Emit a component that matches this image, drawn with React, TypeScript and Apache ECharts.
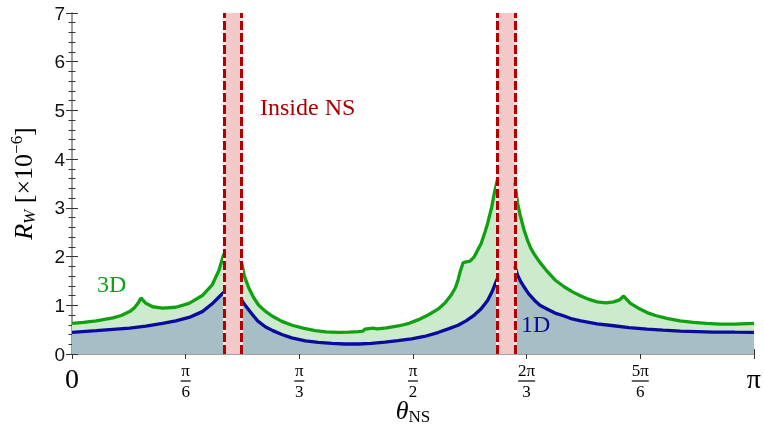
import React, { useEffect, useRef } from "react";
import * as echarts from "echarts";

// x in degrees (0..180 = 0..π), y in units of 1e-6
const green1: [number, number][] = [[0,0.63],[3,0.65],[6.4,0.68],[10.8,0.74],[13,0.79],[15.2,0.87],[16.5,0.95],[17.5,1.05],[18.2,1.15],[19.5,1.04],[21.3,0.97],[23.9,0.94],[27.4,0.96],[30.9,1.04],[34.4,1.2],[37,1.42],[38.8,1.72],[40.1,2.06]];
const green2: [number, number][] = [[44.6,1.94],[45.5,1.6],[46.7,1.35],[48,1.15],[49.3,1.0],[51,0.88],[52.8,0.78],[55.4,0.67],[58.1,0.59],[61,0.53],[64.2,0.48],[67,0.455],[70.3,0.445],[73,0.45],[75.6,0.46],[76.8,0.47],[77.3,0.51],[79.5,0.53],[80.5,0.515],[83,0.535],[86.1,0.575],[89,0.63],[91.3,0.70],[94,0.8],[96.6,0.92],[98.5,1.05],[100.1,1.21],[101.2,1.36],[101.9,1.52],[102.5,1.7],[103.2,1.87],[104,1.89],[104.9,1.9],[105.5,1.94],[106.2,2.0],[107,2.12],[108,2.27],[109,2.5],[109.7,2.68],[110.8,3.02],[111.6,3.35],[112.3,3.58]];
const green3: [number, number][] = [[116.9,3.52],[117.6,3.1],[118.3,2.85],[119.3,2.55],[120.3,2.32],[121.1,2.17],[122,2.05],[123.5,1.88],[125.5,1.69],[127.5,1.52],[129.9,1.38],[132,1.28],[134.3,1.19],[136.5,1.12],[138.6,1.07],[141,1.05],[143,1.07],[144.5,1.11],[145.6,1.19],[147.4,1.04],[149.5,0.94],[151.8,0.85],[154,0.79],[157,0.73],[160.5,0.68],[164,0.65],[167.5,0.63],[171,0.615],[175,0.615],[180,0.63]];

const blue1: [number, number][] = [[0,0.445],[6.4,0.48],[10.8,0.505],[15.2,0.53],[19.5,0.57],[23.9,0.63],[27.4,0.68],[30.9,0.75],[34.4,0.87],[37,1.03],[38.8,1.17],[40.1,1.27]];
const blue2: [number, number][] = [[44.6,1.13],[45.5,1.02],[47.5,0.82],[49,0.68],[51,0.56],[53,0.48],[55.4,0.40],[58,0.33],[61.6,0.27],[65,0.24],[68.6,0.22],[72,0.205],[75.6,0.205],[79,0.22],[82.6,0.245],[86,0.275],[89.6,0.31],[93,0.36],[96.6,0.44],[99.5,0.52],[101.9,0.59],[104,0.68],[106.2,0.80],[108,0.93],[109.7,1.10],[111,1.3],[112.3,1.55]];
const blue3: [number, number][] = [[116.9,1.8],[117.6,1.62],[118.5,1.48],[119.3,1.38],[120.5,1.24],[122,1.11],[123.5,1.0],[125.5,0.92],[127.5,0.84],[129.9,0.78],[132,0.72],[134.3,0.68],[138.6,0.62],[143,0.58],[147,0.54],[151.8,0.51],[156,0.49],[160.6,0.47],[165,0.46],[169.3,0.45],[175,0.447],[180,0.445]];

const bands: [number, number][] = [[40.1, 44.6], [112.3, 116.9]];

const xTicks = [0, 30, 60, 90, 120, 150, 180];
const xTickLabels = ["0", "π/6", "π/3", "π/2", "2π/3", "5π/6", "π"];

const SERIF = "'Liberation Serif', 'Times New Roman', serif";
const SANS = "'Liberation Sans', Arial, sans-serif";

function withGaps(segs: [number, number][][]) {
  const out: any[] = [];
  segs.forEach((s, i) => {
    if (i > 0) out.push([(segs[i - 1][segs[i - 1].length - 1][0] + s[0][0]) / 2, "-"]);
    s.forEach((p) => out.push(p));
  });
  return out;
}

function fmtX(v: number) {
  const idx = xTicks.indexOf(Math.round(v));
  if (idx < 0) return "";
  const t = xTickLabels[idx];
  if (!t.includes("/")) return "{big|" + t + "}";
  const [num, den] = t.split("/");
  const barStyle = num.length > 1 ? "barw" : "bar";
  return "{num|" + num + "}\n{" + barStyle + "| }\n{den|" + den + "}";
}

export default function App() {
  const ref = useRef<HTMLDivElement>(null);
  useEffect(() => {
    if (!ref.current) return;
    const chart = echarts.init(ref.current, undefined, { renderer: "svg" });
    const frame = { lineStyle: { color: "#9a9a9a", width: 1.5 } };
    const option: any = {
      animation: false,
      grid: { left: 69, right: 10, top: 13, bottom: 85 },
      xAxis: [
        {
          type: "value", min: 0, max: 180, interval: 30, position: "bottom",
          axisLine: { show: true, ...frame },
          axisTick: { show: true, inside: true, length: 5, lineStyle: { color: "#333" } },
          splitLine: { show: false },
          axisLabel: {
            margin: 9, formatter: fmtX, color: "#000",
            rich: {
              big: { fontFamily: SERIF, fontSize: 28, lineHeight: 30, color: "#000" },
              num: { fontFamily: SERIF, fontSize: 17, lineHeight: 15, color: "#000" },
              bar: { fontSize: 1, lineHeight: 6, width: 10, height: 1.2, backgroundColor: "#000" },
              barw: { fontSize: 1, lineHeight: 6, width: 17, height: 1.2, backgroundColor: "#000" },
              den: { fontFamily: SERIF, fontSize: 17, lineHeight: 14, color: "#000" },
            },
          },
          name: "{i|θ}{sub|NS}",
          nameLocation: "middle",
          nameGap: 41,
          nameMoveOverlap: false,
          nameTextStyle: {
            rich: {
              i: { fontFamily: SERIF, fontStyle: "italic", fontSize: 26, lineHeight: 30, color: "#000" },
              sub: { fontFamily: SERIF, fontSize: 17, lineHeight: 17, verticalAlign: "bottom", color: "#000" },
            },
          },
        },
        {
          type: "value", min: 0, max: 180, interval: 30, position: "top",
          axisLine: { show: true, ...frame },
          axisTick: { show: true, inside: true, length: 5, lineStyle: { color: "#333" } },
          axisLabel: { show: false },
          splitLine: { show: false },
        },
      ],
      yAxis: [
        {
          type: "value", min: 0, max: 7, interval: 1, position: "left",
          axisLine: { show: true, ...frame },
          axisTick: { show: true, inside: true, length: 6, lineStyle: { color: "#333" } },
          minorTick: { show: true, splitNumber: 5, length: 3.5, lineStyle: { color: "#333" } },
          splitLine: { show: false },
          axisLabel: { fontFamily: SANS, fontSize: 19, color: "#111", margin: 7 },
          name: "{i|R}{sub|W}{n| [×10}{sup|−6}{n|]}",
          nameLocation: "middle",
          nameGap: 34,
          nameTextStyle: {
            rich: {
              i: { fontFamily: SERIF, fontStyle: "italic", fontSize: 26, lineHeight: 30, color: "#000" },
              n: { fontFamily: SERIF, fontSize: 26, lineHeight: 30, color: "#000" },
              sub: { fontFamily: SERIF, fontStyle: "italic", fontSize: 17, lineHeight: 17, verticalAlign: "bottom", color: "#000" },
              sup: { fontFamily: SERIF, fontSize: 17, lineHeight: 17, verticalAlign: "top", color: "#000" },
            },
          },
        },
        {
          type: "value", min: 0, max: 7, interval: 1, position: "right",
          axisLine: { show: true, ...frame },
          axisTick: { show: true, inside: true, length: 6, lineStyle: { color: "#333" } },
          minorTick: { show: true, splitNumber: 5, length: 3.5, lineStyle: { color: "#333" } },
          axisLabel: { show: false },
          splitLine: { show: false },
        },
      ],
      series: [
        {
          name: "3D", type: "line", xAxisIndex: 0, yAxisIndex: 0,
          data: withGaps([green1, green2, green3]), showSymbol: false, symbol: "none",
          connectNulls: false,
          lineStyle: { color: "#11a011", width: 3.3 },
          areaStyle: { color: "#ccebcc", opacity: 1 },
          z: 2,
        },
        {
          name: "1D", type: "line", xAxisIndex: 0, yAxisIndex: 0,
          data: withGaps([blue1, blue2, blue3]), showSymbol: false, symbol: "none",
          connectNulls: false,
          lineStyle: { color: "#0a0a9c", width: 3.3 },
          areaStyle: { color: "#a6bec6", opacity: 1 },
          z: 2,
        },
        {
          name: "band", type: "line", xAxisIndex: 0, yAxisIndex: 0, data: [], z: 3,
          markArea: {
            silent: true,
            itemStyle: { color: "#f1c9c9", opacity: 1 },
            data: bands.map((b) => [{ xAxis: b[0] }, { xAxis: b[1] }]),
          },
          markLine: {
            silent: true, symbol: "none", label: { show: false },
            lineStyle: { color: "#f8e6e6", width: 3, type: "solid" },
            data: bands.flatMap((b) => [{ xAxis: b[0] }, { xAxis: b[1] }]),
          },
        },
        {
          name: "bandEdge", type: "line", xAxisIndex: 0, yAxisIndex: 0, data: [], z: 4,
          markLine: {
            silent: true, symbol: "none", label: { show: false },
            lineStyle: { color: "#b00000", width: 3, type: [9, 3] },
            data: bands.flatMap((b) => [{ xAxis: b[0] }, { xAxis: b[1] }]),
          },
        },
      ],
      graphic: [
        { type: "text", left: 260, top: 95, style: { text: "Inside NS", fontFamily: SERIF, fontSize: 24, fill: "#a80000" }, z: 10 },
        { type: "text", left: 97, top: 272, style: { text: "3D", fontFamily: SERIF, fontSize: 24, fill: "#11a011" }, z: 10 },
        { type: "text", left: 521, top: 312, style: { text: "1D", fontFamily: SERIF, fontSize: 24, fill: "#0a0a9c" }, z: 10 },
      ],
    };
    chart.setOption(option);
    return () => chart.dispose();
  }, []);
  return <div ref={ref} style={{ position: "fixed", left: 0, top: 0, width: 764, height: 439 }} />;
}
